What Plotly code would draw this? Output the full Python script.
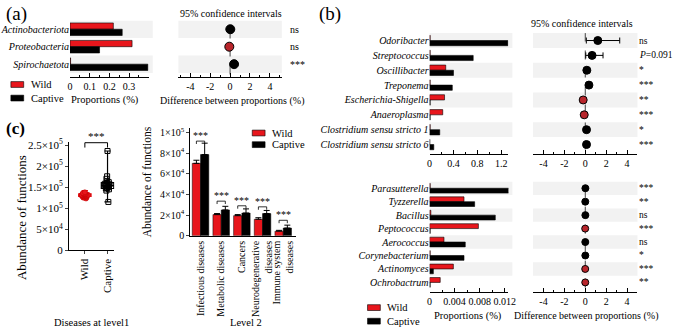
import plotly.graph_objects as go

W, H = 677, 333
def fx(p): return p / W
def fy(p): return 1 - p / H

FONT = "Liberation Serif, DejaVu Serif, Times New Roman, serif"
RED = "#e8161c"
CI_RED = "#b8252b"
GRAY = "#f2f2f2"

# ---------------- data ----------------
# (a) phylum level
phyla = ["Actinobacteriota", "Proteobacteria", "Spirochaetota"]
phyla_wild = [0.22, 0.315, 0.003]
phyla_captive = [0.265, 0.15, 0.395]
phyla_diff = [0.02, -0.08, 0.4]
phyla_sig = ["ns", "ns", "***"]

# (b) genus level, upper block
genera_top = ["Odoribacter", "Streptococcus", "Oscillibacter", "Treponema",
              "Escherichia-Shigella", "Anaeroplasma",
              "Clostridium sensu stricto 1", "Clostridium sensu stricto 6"]
top_wild = [0.01, 0.01, 0.27, 0.01, 0.25, 0.22, 0.01, 0.004]
top_captive = [1.31, 0.73, 0.40, 0.38, 0.01, 0.01, 0.17, 0.07]
top_diff = [1.2, 0.65, 0.15, 0.35, -0.2, -0.1, 0.12, 0.12]
top_ci_low = [0.1, 0.05, 0.1, 0.3, -0.25, -0.15, 0.07, 0.07]
top_ci_high = [3.3, 1.7, 0.2, 0.4, -0.15, -0.05, 0.17, 0.17]
top_sig = ["ns", "<i>P</i>=0.091", "*", "***", "**", "***", "*", "***"]

# (b) genus level, lower block
genera_bottom = ["Parasutterella", "Tyzzerella", "Bacillus", "Peptococcus",
                 "Aerococcus", "Corynebacterium", "Actinomyces", "Ochrobactrum"]
bottom_wild = [0.0001, 0.0055, 0.0002, 0.0078, 0.0023, 0.0001, 0.0038, 0.0017]
bottom_captive = [0.0128, 0.0072, 0.0105, 0.0001, 0.0057, 0.0055, 0.0006, 0.0001]
bottom_diff = [0.0127, 0.0017, 0.0103, -0.0077, 0.0034, 0.0054, -0.0032, -0.0016]
bottom_sig = ["***", "**", "ns", "***", "ns", "*", "***", "**"]

# (c) diseases at level 1
groups_level1 = ["Wild", "Captive"]
wild_level1 = [1.27e5, 1.30e5, 1.33e5, 1.29e5, 1.31e5, 1.35e5, 1.28e5, 1.32e5,
               1.26e5, 1.34e5, 1.30e5, 1.31e5, 1.29e5, 1.36e5, 1.32e5, 1.28e5,
               1.33e5, 1.30e5, 1.25e5, 1.34e5, 1.31e5, 1.29e5, 1.32e5, 1.38e5, 1.23e5]
captive_level1 = [1.42e5, 1.45e5, 1.47e5, 1.48e5, 1.50e5, 1.51e5, 1.52e5, 1.53e5,
                  1.54e5, 1.55e5, 1.56e5, 1.57e5, 1.58e5, 1.60e5, 1.62e5, 1.64e5,
                  1.70e5, 1.76e5, 1.15e5, 2.36e5]
wild_stats = [1.28e5, 1.31e5, 1.34e5, 1.22e5, 1.42e5]      # q1, median, q3, min, max
captive_stats = [1.47e5, 1.54e5, 1.61e5, 1.15e5, 2.36e5]

# (c) level 2
level2 = ["Infectious diseases", "Metabolic diseases", "Cancers",
          "Neurodegenerative<br>diseases", "Immune system<br>diseases"]
level2_wild = [7.0e4, 2.05e4, 1.95e4, 1.6e4, 0.45e4]
level2_captive = [7.85e4, 2.5e4, 2.2e4, 2.15e4, 0.75e4]
level2_wild_err = [0.3e4, 0.1e4, 0.1e4, 0.15e4, 0.08e4]
level2_captive_err = [1.1e4, 0.35e4, 0.4e4, 0.3e4, 0.28e4]
level2_sig_y = [9.7e4, 3.9e4, 3.45e4, 3.35e4, 2.05e4]

# ---------------- figure ----------------
fig = go.Figure()
shapes, annos = [], []

def bar_pair(names, wild, captive, xa, ya, w):
    pos = list(range(len(names)))
    fig.add_trace(go.Bar(y=pos, x=wild, orientation="h", width=w, offset=-w,
                         marker=dict(color=RED, line=dict(color="black", width=0.6)),
                         xaxis=xa, yaxis=ya, showlegend=False, name="Wild"))
    fig.add_trace(go.Bar(y=pos, x=captive, orientation="h", width=w, offset=0,
                         marker=dict(color="black", line=dict(color="black", width=0.6)),
                         xaxis=xa, yaxis=ya, showlegend=False, name="Captive"))

def ci_points(diff, lo, hi, xa, ya, size):
    pos = list(range(len(diff)))
    kw = {}
    if lo is not None:
        kw["error_x"] = dict(type="data", symmetric=False,
                             array=[h - d for h, d in zip(hi, diff)],
                             arrayminus=[d - l for l, d in zip(lo, diff)],
                             color="black", thickness=1, width=3)
    fig.add_trace(go.Scatter(x=diff, y=pos, mode="markers",
                             marker=dict(size=size, color=[CI_RED if d < 0 else "black" for d in diff],
                                         line=dict(color="black", width=1)),
                             xaxis=xa, yaxis=ya, showlegend=False, **kw))

def bands(n, xa, ya, x1=1.0):
    for r in range(0, n, 2):
        shapes.append(dict(type="rect", xref=xa + " domain", yref=ya, x0=0, x1=x1,
                           y0=r - 0.5, y1=r + 0.5, fillcolor=GRAY, line=dict(width=0), layer="below"))

def zero_line(xa, ya):
    shapes.append(dict(type="line", xref=xa, yref=ya + " domain", x0=0, x1=0, y0=0.04, y1=1,
                       line=dict(color="#444", width=1, dash="dash"), layer="below"))

# panel a
bar_pair(phyla, phyla_wild, phyla_captive, "x", "y", 0.36)
ci_points(phyla_diff, None, None, "x2", "y2", 9)
bands(3, "x", "y", 1.05)
bands(3, "x2", "y2")
zero_line("x2", "y2")
for i, s in enumerate(phyla_sig):
    annos.append(dict(text=s, xref="paper", yref="y2", x=fx(289), y=i, xanchor="left",
                      showarrow=False, font=dict(size=10)))

# panel b top
bar_pair(genera_top, top_wild, top_captive, "x3", "y3", 0.35)
ci_points(top_diff, top_ci_low, top_ci_high, "x4", "y4", 8)
bands(8, "x3", "y3", 1.05)
bands(8, "x4", "y4")
zero_line("x4", "y4")
for i, s in enumerate(top_sig):
    annos.append(dict(text=s, xref="paper", yref="y4", x=fx(644), y=i, xanchor="left",
                      showarrow=False, font=dict(size=9.5)))

# panel b bottom
bar_pair(genera_bottom, bottom_wild, bottom_captive, "x5", "y5", 0.36)
ci_points(bottom_diff, None, None, "x6", "y6", 7)
bands(8, "x5", "y5", 1.05)
bands(8, "x6", "y6")
zero_line("x6", "y6")
for i, s in enumerate(bottom_sig):
    annos.append(dict(text=s, xref="paper", yref="y6", x=fx(644), y=i, xanchor="left",
                      showarrow=False, font=dict(size=9.5)))

# panel c box
for g, st, col in [("Wild", wild_stats, RED), ("Captive", captive_stats, "black")]:
    fig.add_trace(go.Box(x=[g], q1=[st[0]], median=[st[1]], q3=[st[2]],
                         lowerfence=[st[3]], upperfence=[st[4]], width=0.55,
                         line=dict(color=col, width=1.2), fillcolor="white",
                         boxpoints=False, xaxis="x7", yaxis="y7", showlegend=False))
fig.add_trace(go.Box(x=["Wild"] * len(wild_level1), y=wild_level1, boxpoints="all", jitter=0.9,
                     pointpos=0, width=0.4, line=dict(width=0, color="rgba(0,0,0,0)"),
                     fillcolor="rgba(0,0,0,0)",
                     marker=dict(color=RED, size=5, line=dict(color="#c00000", width=0.5)),
                     xaxis="x7", yaxis="y7", showlegend=False))
fig.add_trace(go.Box(x=["Captive"] * len(captive_level1), y=captive_level1, boxpoints="all",
                     jitter=0.9, pointpos=0, width=0.4, line=dict(width=0, color="rgba(0,0,0,0)"),
                     fillcolor="rgba(0,0,0,0)",
                     marker=dict(color="black", size=5, symbol="square-open", line=dict(width=1)),
                     xaxis="x7", yaxis="y7", showlegend=False))
shapes.append(dict(type="path", xref="x7", yref="paper",
                   path=f"M 0,{fy(148)} L 0,{fy(143)} L 1,{fy(143)} L 1,{fy(148)}",
                   line=dict(color="black", width=1)))
annos.append(dict(text="***", xref="x7", yref="paper", x=0.5, y=fy(136), showarrow=False,
                  font=dict(size=11)))

# panel c level2 bars
pos2 = list(range(len(level2)))
fig.add_trace(go.Bar(x=pos2, y=level2_wild, width=0.4, offset=-0.4,
                     marker=dict(color=RED, line=dict(color="black", width=0.5)),
                     error_y=dict(type="data", symmetric=False, array=level2_wild_err,
                                  arrayminus=[0] * 5, color="black", thickness=1, width=3),
                     xaxis="x8", yaxis="y8", showlegend=False))
fig.add_trace(go.Bar(x=pos2, y=level2_captive, width=0.4, offset=0,
                     marker=dict(color="black", line=dict(color="black", width=0.5)),
                     error_y=dict(type="data", symmetric=False, array=level2_captive_err,
                                  arrayminus=[0] * 5, color="black", thickness=1, width=3),
                     xaxis="x8", yaxis="y8", showlegend=False))
for i, ys in enumerate(level2_sig_y):
    yb = ys - 0.55e4
    shapes.append(dict(type="path", xref="x8", yref="y8",
                       path=f"M {i-0.2},{yb-0.28e4} L {i-0.2},{yb} L {i+0.2},{yb} L {i+0.2},{yb-0.28e4}",
                       line=dict(color="black", width=0.8)))
    annos.append(dict(text="***", xref="x8", yref="y8", x=i, y=ys, showarrow=False,
                      font=dict(size=10)))

# ---------------- axes ----------------
def xax(d0, d1, rng, tickvals, ticktext, minor_dt, anchor):
    return dict(domain=[fx(d0), fx(d1)], range=rng, anchor=anchor, showgrid=False, zeroline=False,
                showline=True, linecolor="black", linewidth=1, ticks="inside", ticklen=4,
                tickcolor="black", tickvals=tickvals, ticktext=ticktext, tickfont=dict(size=10),
                minor=dict(ticks="inside", ticklen=2, dtick=minor_dt, tickcolor="black"))

def yax(t, b, n, extra, anchor, names=None):
    d = dict(domain=[fy(b), fy(t)], range=[n - 0.5 + extra, -0.5], anchor=anchor, showgrid=False,
             zeroline=False, showline=False, ticks="")
    if names:
        d.update(tickvals=list(range(n)), ticktext=[f"<i>{s}</i>" for s in names],
                 tickfont=dict(size=10))
    else:
        d.update(showticklabels=False)
    return d

ci_vals = [-4, -2, 0, 2, 4]
layout_axes = dict(
    xaxis=xax(68, 148, [0, 0.4], [0, 0.1, 0.2, 0.3], ["0", "0.1", "0.2", "0.3"], 0.05, "y"),
    yaxis=yax(17, 75, 3, 0.22, "x", phyla),
    xaxis2=xax(178, 283, [-5.2, 5.2], ci_vals, [str(v) for v in ci_vals], 1, "y2"),
    yaxis2=yax(17, 75, 3, 0.22, "x2"),
    xaxis3=xax(433, 513, [0, 1.32], [0, 0.4, 0.8, 1.2], ["0", "0.4", "0.8", "1.2"], 0.2, "y3"),
    yaxis3=yax(30, 155, 8, 0.16, "x3", genera_top),
    xaxis4=xax(538, 644, [-5, 5], ci_vals, [str(v) for v in ci_vals], 1, "y4"),
    yaxis4=yax(30, 155, 8, 0.16, "x4"),
    xaxis5=xax(433, 513, [0, 0.0126], [0, 0.004, 0.008, 0.012], ["0", "0.004", "0.008", "0.012"], 0.002, "y5"),
    yaxis5=yax(183, 297, 8, 0.22, "x5", genera_bottom),
    xaxis6=xax(538, 644, [-5, 5], ci_vals, [str(v) for v in ci_vals], 1, "y6"),
    yaxis6=yax(183, 297, 8, 0.22, "x6"),
    xaxis7=dict(domain=[fx(67), fx(113)], range=[-0.7, 1.3], anchor="y7", type="category",
                categoryarray=groups_level1, categoryorder="array", showgrid=False, zeroline=False,
                showline=True, linecolor="black", ticks="outside", ticklen=3, tickangle=-90,
                tickfont=dict(size=11)),
    yaxis7=dict(domain=[fy(254), fy(142)], range=[0, 2.58e5], anchor="x7", showgrid=False,
                zeroline=False, showline=True, linecolor="black", ticks="outside", ticklen=3,
                tickvals=[0, 5e4, 1e5, 1.5e5, 2e5, 2.5e5],
                ticktext=["0", "5×10<sup>4</sup>", "1×10<sup>5</sup>", "1.5×10<sup>5</sup>",
                          "2×10<sup>5</sup>", "2.5×10<sup>5</sup>"],
                tickfont=dict(size=11)),
    xaxis8=dict(domain=[fx(190), fx(297)], range=[-0.5, 4.6], anchor="y8", showgrid=False,
                zeroline=False, showline=True, linecolor="black", ticks="", tickangle=-90,
                tickvals=pos2, ticktext=level2, tickfont=dict(size=10)),
    yaxis8=dict(domain=[fy(239), fy(128)], range=[0, 1.04e5], anchor="x8", showgrid=False,
                zeroline=False, showline=True, linecolor="black", ticks="outside", ticklen=3,
                tickvals=[0, 2e4, 4e4, 6e4, 8e4, 1e5],
                ticktext=["0", "2×10<sup>4</sup>", "4×10<sup>4</sup>", "6×10<sup>4</sup>",
                          "8×10<sup>4</sup>", "1×10<sup>5</sup>"],
                tickfont=dict(size=10)),
)

# ---------------- text labels ----------------
def txt(s, x, y, size=10, xanchor="center", angle=0, **kw):
    annos.append(dict(text=s, xref="paper", yref="paper", x=fx(x), y=fy(y), xanchor=xanchor,
                      yanchor="middle", showarrow=False, textangle=angle, font=dict(size=size), **kw))

txt("(a)", 1, 10, 19, "left")
txt("(b)", 319, 10, 19, "left")
txt("<b>(c)</b>", 1, 128, 17, "left")
txt("95% confidence intervals", 231, 10, 10)
txt("95% confidence intervals", 588, 20, 10)
txt("Proportions (%)", 104, 99, 10.5)
txt("Difference between proportions (%)", 232, 100, 10)
txt("Proportions (%)", 472, 322, 10.5)
txt("Difference between proportions (%)", 592, 322, 10)
txt("Abundance of functions", 19, 220, 13, angle=-90)
txt("Abundance of functions", 146, 183, 11.5, angle=-90)
txt("Diseases at level1", 90, 328, 10.5)
txt("Level 2", 247, 328, 10.5)

# legends (swatch + text)
for (lx, ly, gap) in [(8, 83, 14), (370, 313, 14), (253, 133, 12)]:
    for k, (lab, col) in enumerate([("Wild", RED), ("Captive", "black")]):
        yy = ly + gap * k
        shapes.append(dict(type="rect", xref="paper", yref="paper", x0=fx(lx), x1=fx(lx + 13),
                           y0=fy(yy + 3), y1=fy(yy - 3), fillcolor=col,
                           line=dict(color="black", width=0.6)))
        txt(lab, lx + 18, yy, 10.5, "left")

fig.update_layout(
    width=W, height=H, autosize=False, margin=dict(l=0, r=0, t=0, b=0),
    paper_bgcolor="white", plot_bgcolor="rgba(0,0,0,0)",
    font=dict(family=FONT, size=10, color="black"),
    barmode="overlay", showlegend=False,
    shapes=shapes, annotations=annos, **layout_axes,
)

fig.write_html("out.html", config={"displayModeBar": False},
               post_script="document.body.style.margin='0';")
